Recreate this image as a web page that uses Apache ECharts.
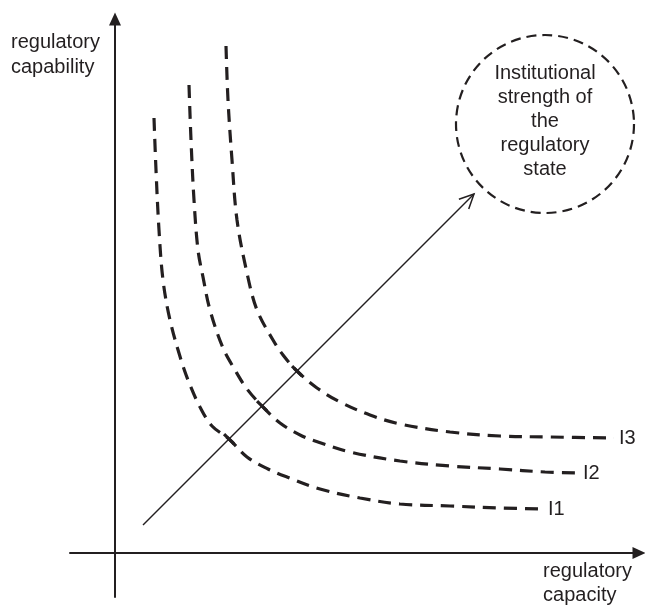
<!DOCTYPE html>
<html>
<head>
<meta charset="utf-8">
<script src="https://cdn.jsdelivr.net/npm/echarts@6/dist/echarts.min.js"></script>
<style>
html,body{margin:0;padding:0;background:#fff;}
#chart{width:645px;height:606px;}
</style>
</head>
<body>
<div id="chart"></div>
<script>
// 无差异曲线 (x: regulatory capacity, y: regulatory capability)
var curveI1 = [[39,435],[41,383],[44,323],[48,273],[55,233],[67,190],[75,168],[85,146],[97,127],[114,114],[132,96],[153,84],[172,76],[205,64],[245,55],[285,49],[335,47],[385,45],[428,44]];
var curveI2 = [[74,468],[76,413],[79,353],[83,303],[88,276],[95,243],[108,205],[120,183],[132,164],[147,147],[165,130],[187,117],[203,111],[235,101],[285,92],[335,87],[385,84],[430,81],[463,80]];
var curveI3 = [[111,507],[113,453],[117,393],[122,333],[132,280],[142,243],[158,213],[168,198],[182,182],[202,165],[225,151],[255,138],[285,129],[335,121],[385,117],[435,116],[499,115]];
var curveNames = ['I1', 'I2', 'I3'];
// 对角箭头 + 交点刻度
var arrowFrom = [28, 28];
var arrowTo = [359, 359];
var crossings = [[114,114],[147,147],[182,182]];
// 虚线圆
var circleCenter = [430, 429];
var circleText = ['Institutional', 'strength of', 'the', 'regulatory', 'state'];
// 坐标轴
var xRange = [-45, 524];
var yRange = [-44, 534];
var yTitle = ['regulatory', 'capability'];
var xTitle = ['regulatory', 'capacity'];

var ink = '#231f20';
var font = 'Liberation Sans, Arial, Helvetica, sans-serif';

function curveSeries(name, data) {
    return {
        name: name,
        type: 'line',
        data: data,
        smooth: 0.35,
        symbol: 'none',
        silent: true,
        lineStyle: { color: ink, width: 3.2, type: [13, 8] },
        endLabel: {
            show: true,
            formatter: '{a}',
            distance: 5,
            color: ink,
            fontSize: 20,
            fontFamily: font
        },
        z: 3
    };
}

var option = {
    animation: false,
    backgroundColor: '#fff',
    grid: { left: 70, right: 6, top: 19, bottom: 9, containLabel: false },
    xAxis: {
        type: 'value',
        min: xRange[0],
        max: xRange[1],
        axisLine: {
            onZero: true,
            symbol: ['none', 'triangle'],
            symbolSize: [12, 13],
            lineStyle: { color: ink, width: 2 }
        },
        axisTick: { show: false },
        axisLabel: { show: false },
        splitLine: { show: false }
    },
    yAxis: {
        type: 'value',
        min: yRange[0],
        max: yRange[1],
        axisLine: {
            onZero: true,
            symbol: ['none', 'triangle'],
            symbolSize: [12, 13],
            lineStyle: { color: ink, width: 2 }
        },
        axisTick: { show: false },
        axisLabel: { show: false },
        splitLine: { show: false }
    },
    graphic: [
        { type: 'text', left: 11, top: 30, style: { text: yTitle.join('\n'), fill: ink, font: '20px ' + font, align: 'center', lineHeight: 25 } },
        { type: 'text', right: 13, top: 559, style: { text: xTitle.join('\n'), fill: ink, font: '20px ' + font, align: 'center', lineHeight: 24 } }
    ],
    series: [
        curveSeries(curveNames[0], curveI1),
        curveSeries(curveNames[1], curveI2),
        curveSeries(curveNames[2], curveI3),
        {
            type: 'custom',
            silent: true,
            data: [arrowFrom.concat(arrowTo)],
            renderItem: function (params, api) {
                var a = api.coord([api.value(0), api.value(1)]);
                var b = api.coord([api.value(2), api.value(3)]);
                var ang = Math.atan2(b[1] - a[1], b[0] - a[0]);
                var len = 16, spread = Math.PI / 7;
                var h1 = [b[0] - len * Math.cos(ang - spread), b[1] - len * Math.sin(ang - spread)];
                var h2 = [b[0] - len * Math.cos(ang + spread), b[1] - len * Math.sin(ang + spread)];
                return {
                    type: 'group',
                    children: [
                        { type: 'line', shape: { x1: a[0], y1: a[1], x2: b[0], y2: b[1] }, style: { stroke: ink, lineWidth: 1.5 } },
                        { type: 'polyline', shape: { points: [h1, b, h2] }, style: { stroke: ink, lineWidth: 1.5, fill: null } }
                    ]
                };
            },
            z: 4
        },
        {
            type: 'custom',
            silent: true,
            data: crossings,
            renderItem: function (params, api) {
                var p = api.coord([api.value(0), api.value(1)]);
                var a = api.coord(arrowFrom);
                var b = api.coord(arrowTo);
                var ang = Math.atan2(b[1] - a[1], b[0] - a[0]) + Math.PI / 2;
                var h = 7;
                return {
                    type: 'line',
                    shape: {
                        x1: p[0] - h * Math.cos(ang), y1: p[1] - h * Math.sin(ang),
                        x2: p[0] + h * Math.cos(ang), y2: p[1] + h * Math.sin(ang)
                    },
                    style: { stroke: ink, lineWidth: 3.2 }
                };
            },
            z: 5
        },
        {
            type: 'scatter',
            silent: true,
            data: [circleCenter],
            symbol: 'circle',
            symbolSize: 178,
            itemStyle: { color: 'rgba(0,0,0,0)', opacity: 1, borderColor: ink, borderWidth: 2.2, borderType: [10, 6] },
            label: {
                show: true,
                position: 'inside',
                formatter: circleText.join('\n'),
                color: ink,
                fontSize: 20,
                lineHeight: 24,
                fontFamily: font,
                offset: [0, -3]
            },
            z: 2
        }
    ]
};

var myChart = echarts.init(document.getElementById('chart'));
myChart.setOption(option);
</script>
</body>
</html>
